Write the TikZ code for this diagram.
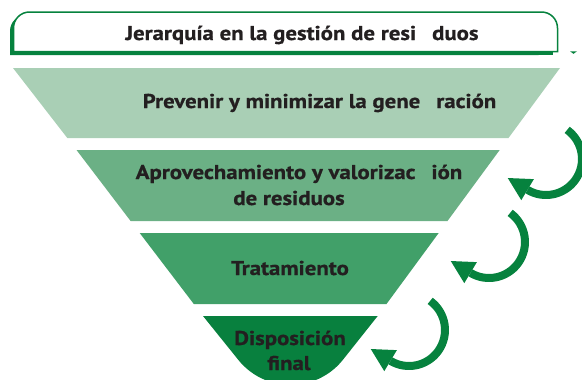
\documentclass[tikz,border=0pt]{standalone}
\usepackage{fontspec}
\setmainfont{PT Sans}[FakeStretch=1.14, BoldFeatures={FakeBold=0.8}]
\usetikzlibrary{calc}
\definecolor{borderg}{RGB}{6,130,62}
\definecolor{lvA}{RGB}{169,207,181}
\definecolor{lvB}{RGB}{107,176,133}
\definecolor{lvC}{RGB}{65,160,105}
\definecolor{lvD}{RGB}{8,128,62}
\definecolor{txtd}{RGB}{35,31,32}
\tikzset{
  lbl/.style={font=\bfseries\fontsize{20}{26}\selectfont, text=txtd, inner sep=0pt, anchor=base, align=center},
  arrowline/.style={draw=borderg, line width=8pt},
}
\newcommand\cyclearrow[1]{%
  \begin{scope}[shift={#1}]
    \draw[arrowline] (-54:36) arc[start angle=-54, end angle=121, radius=36];
    \fill[borderg] ($(121:36)+(211:23)$) -- (121:48) -- (121:23.5) -- cycle;
  \end{scope}}
\begin{document}
\begin{tikzpicture}[x=1pt,y=-1pt]
\useasboundingbox (0,0) rectangle (582,380);
% title box with shadow
\fill[borderg] (10,55) -- (10,31) arc[start angle=180, end angle=270, radius=16] -- (538.5,15) -- (538.5,55) -- cycle;
\filldraw[fill=white, draw=borderg, line width=1.5pt] (13.5,51.5) -- (13.5,28) arc[start angle=180, end angle=270, radius=16] -- (541.5,12) arc[start angle=270, end angle=360, radius=16] -- (557.5,51.5) -- cycle;
\fill[borderg] (10,50.5) rectangle (553,54.5);
\fill[borderg] (570,51.3) -- (577,51.3) -- (573.5,53.8) -- cycle;
\node[lbl] (title) at (302,40) {Jerarquía en la gestión de resi\hspace{16pt}duos};
% levels
\fill[lvA] (13,68) -- (560,68) -- (508.5,138) -- (67.3,138) -- cycle;
\fill[lvB] (76.5,150) -- (499.7,150) -- (447.5,221) -- (130.6,221) -- cycle;
\fill[lvC] (139.7,233) -- (438.7,233) -- (386.5,304) -- (193.8,304) -- cycle;
\fill[lvD] (203,316) -- (238,359.5) arc[start angle=141.7, end angle=38.3, radius=67] -- (377.7,316) -- cycle;
\node[lbl] (prev) at (319.5,108) {Prevenir y minimizar la gene\hspace{16pt}ración};
\node[lbl] (apro) at (299,179) {Aprovechamiento y valorizac\hspace{16pt}ión};
\node[lbl] (apro2) at (289,205) {de residuos};
\node[lbl] (trat) at (290,275) {Tratamiento};
\node[lbl] (disp) at (290,345) {Disposición};
\node[lbl] (disp2) at (289,370) {final};
% cycle arrows
\cyclearrow{(546,159)}
\cyclearrow{(489,242)}
\cyclearrow{(409,330)}
\end{tikzpicture}
\end{document}
